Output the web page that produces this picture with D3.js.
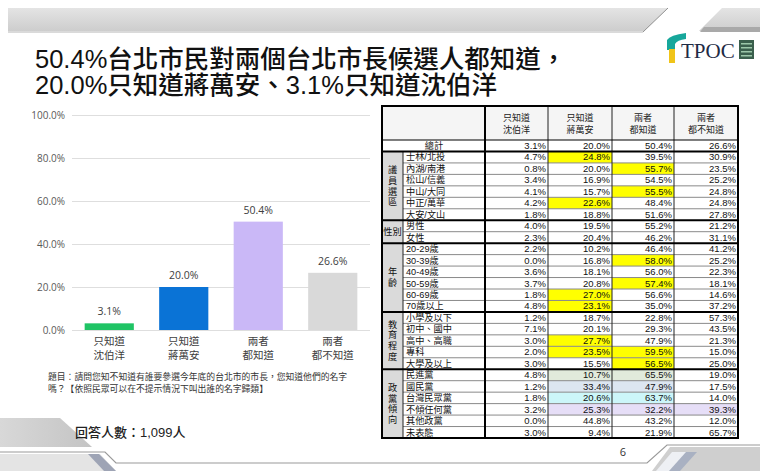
<!DOCTYPE html>
<html><head><meta charset="utf-8">
<script src="https://cdn.jsdelivr.net/npm/d3@7"></script>
<style>body{margin:0;background:#fff}svg{display:block}</style>
</head><body>
<svg id="c" width="760" height="471"></svg>
<script>
// ---------- data ----------
const titleLines = ["50.4%台北市民對兩個台北市長候選人都知道，", "20.0%只知道蔣萬安、3.1%只知道沈伯洋"];
const categories = ["只知道\n沈伯洋", "只知道\n蔣萬安", "兩者\n都知道", "兩者\n都不知道"];
const values = [3.1, 20.0, 50.4, 26.6];
const barColors = ["#1fc465", "#0a73d6", "#cab8f7", "#d9d9d9"];
const yTicks = [0, 20, 40, 60, 80, 100];
const questionLines = ["題目：請問您知不知道有誰要參選今年底的台北市的市長，您知道他們的名字", "嗎？【依照民眾可以在不提示情況下叫出誰的名字歸類】"];
const sampleText = "回答人數：1,099人";

const rowLabels = ["總計", "士林/北投", "內湖/南港", "松山/信義", "中山/大同", "中正/萬華", "大安/文山",
  "男性", "女性", "20-29歲", "30-39歲", "40-49歲", "50-59歲", "60-69歲", "70歲以上",
  "小學及以下", "初中、國中", "高中、高職", "專科", "大學及以上",
  "民進黨", "國民黨", "台灣民眾黨", "不傾任何黨", "其他政黨", "未表態"];
const groupNames = ["議員選區", "性別", "年齡", "教育程度", "政黨傾向"];
const groupSizes = [6, 2, 6, 5, 6];
const colShen    = [3.1, 4.7, 0.8, 3.4, 4.1, 4.2, 1.8, 4.0, 2.3, 2.2, 0.0, 3.6, 3.7, 1.8, 4.8, 1.2, 7.1, 3.0, 2.0, 3.0, 4.8, 1.2, 1.8, 3.2, 0.0, 3.0];
const colChiang  = [20.0, 24.8, 20.0, 16.9, 15.7, 22.6, 18.8, 19.5, 20.4, 10.2, 16.8, 18.1, 20.8, 27.0, 23.1, 18.7, 20.1, 27.7, 23.5, 15.5, 10.7, 33.4, 20.6, 25.3, 44.8, 9.4];
const colBoth    = [50.4, 39.5, 55.7, 54.5, 55.5, 48.4, 51.6, 55.2, 46.2, 46.4, 58.0, 56.0, 57.4, 56.6, 35.0, 22.8, 29.3, 47.9, 59.5, 56.5, 65.5, 47.9, 63.7, 32.2, 43.2, 21.9];
const colNeither = [26.6, 30.9, 23.5, 25.2, 24.8, 24.8, 27.8, 21.2, 31.1, 41.2, 25.2, 22.3, 18.1, 14.6, 37.2, 57.3, 43.5, 21.3, 15.0, 25.0, 19.0, 17.5, 14.0, 39.3, 12.0, 65.7];
// [row, column, colour key]
const highlights = [[1,1,"y"],[2,2,"y"],[4,2,"y"],[5,1,"y"],[10,2,"y"],[12,2,"y"],[13,1,"y"],[14,1,"y"],
  [17,1,"y"],[18,1,"y"],[18,2,"y"],[19,2,"y"],[20,1,"g"],[20,2,"g"],[21,1,"b"],[21,2,"b"],
  [22,1,"c"],[22,2,"c"],[23,1,"p"],[23,2,"p"],[23,3,"p"]];
const hlColors = {y:"#ffff00", g:"#e1eadb", b:"#dce6f1", c:"#ccf6f9", p:"#e6def7"};

// ---------- drawing ----------
const svg = d3.select("#c");
const CJK = "'Liberation Sans','Noto Sans CJK TC','Noto Sans CJK SC',sans-serif";
const defs = svg.append("defs");
const g1 = defs.append("linearGradient").attr("id","band").attr("x1",0).attr("y1",0).attr("x2",0).attr("y2",1);
g1.append("stop").attr("offset","0%").attr("stop-color","#e4e4e4");
g1.append("stop").attr("offset","100%").attr("stop-color","#cdcdcd");

// top decoration
svg.append("path").attr("d","M8,8 L668,8 L644,31 L8,31 Z").attr("fill","url(#band)");
svg.append("path").attr("d","M722,8 L760,8 L760,31 L699,31 Z").attr("fill","url(#band)");
svg.append("path").attr("d","M704,27 L760,27 L760,32 L700,32 Z").attr("fill","#a9a9a9");
svg.append("line").attr("x1",668).attr("y1",8).attr("x2",643).attr("y2",32).attr("stroke","#777").attr("stroke-width",0.8);
svg.append("line").attr("x1",8).attr("y1",32).attr("x2",643).attr("y2",32).attr("stroke","#b5b5b5").attr("stroke-width",1);

// logo
svg.append("path").attr("d","M667,40 Q670,35 686,33 L686,39 Q677,40 675,44 L675,50 L667,50 Z").attr("fill","#17a79b");
svg.append("rect").attr("x",669).attr("y",49).attr("width",6).attr("height",14).attr("fill","#f0c419");
svg.append("text").attr("x",681).attr("y",58).attr("font-family","'Liberation Serif','DejaVu Serif',serif")
  .attr("font-size",21).attr("fill","#1e2a44").text("TPOC");
const ic = svg.append("g");
ic.append("rect").attr("x",739).attr("y",40).attr("width",15).attr("height",19).attr("fill","#3a5f4c");
[43,47,51,55].forEach(yy => ic.append("rect").attr("x",741).attr("y",yy).attr("width",11).attr("height",1.5).attr("fill","#9cc7a9"));

// title
svg.append("g").selectAll("text").data(titleLines).join("text")
  .attr("x",35).attr("y",(d,i)=>68+i*26).attr("font-family",CJK).attr("font-size",25.5)
  .attr("font-weight",500).attr("fill","#111").text(d=>d);

// ---------- bar chart ----------
const x = d3.scaleBand().domain(categories).range([72,370]).paddingInner(0.34).paddingOuter(0.17);
const y = d3.scaleLinear().domain([0,100]).range([330,115]);

const yAxis = svg.append("g").attr("transform","translate(72,0)")
  .call(d3.axisLeft(y).tickValues(yTicks).tickSize(-298).tickFormat(d=>d.toFixed(1)+"%"));
yAxis.select(".domain").remove();
yAxis.selectAll(".tick line").attr("stroke","#dedede");
yAxis.selectAll(".tick text").attr("x",-7).attr("fill","#595959").attr("font-size",10)
  .attr("font-family","'Open Sans','Noto Sans',sans-serif");

svg.append("g").selectAll("rect").data(values).join("rect")
  .attr("x",(d,i)=>x(categories[i])).attr("width",x.bandwidth())
  .attr("y",d=>y(d)).attr("height",d=>y(0)-y(d)).attr("fill",(d,i)=>barColors[i]);

svg.append("g").selectAll("text").data(values).join("text")
  .attr("x",(d,i)=>x(categories[i])+x.bandwidth()/2).attr("y",d=>y(d)-8)
  .attr("text-anchor","middle").attr("font-size",10.5).attr("fill","#404040")
  .attr("font-family","'Open Sans','Noto Sans',sans-serif").text(d=>d.toFixed(1)+"%");

const cl = svg.append("g").selectAll("text").data(categories).join("text")
  .attr("text-anchor","middle").attr("font-family",CJK).attr("font-size",10.5).attr("fill","#404040");
cl.each(function(d){
  const t = d3.select(this), cx = x(d)+x.bandwidth()/2;
  d.split("\n").forEach((s,i)=>t.append("tspan").attr("x",cx).attr("y",345+i*14).text(s));
});

// question text
svg.append("g").selectAll("text").data(questionLines).join("text")
  .attr("x",48).attr("y",(d,i)=>380+i*12).attr("font-family",CJK).attr("font-size",8.8).attr("fill","#333").text(d=>d);

// bottom decorations
const g2 = defs.append("linearGradient").attr("id","bl").attr("x1",0).attr("y1",0).attr("x2",1).attr("y2",0);
g2.append("stop").attr("offset","0%").attr("stop-color","#d8d8d8");
g2.append("stop").attr("offset","100%").attr("stop-color","#c4c4c4");
svg.append("path").attr("d","M0,418 L60,418 L92,447 L0,447 Z").attr("fill","url(#bl)");
svg.append("path").attr("d","M0,454 L100,454 L116,471 L0,471 Z").attr("fill","#e4e4e4");
svg.append("path").attr("d","M88,454 L99,454 L116,471 L104,471 Z").attr("fill","#9ea4b5");
svg.append("path").attr("d","M652,471 L670,447 L760,447 L760,471 Z").attr("fill","#cfcfcf");
svg.append("path").attr("d","M672,452 L690,452 L672,471 L656,471 Z").attr("fill","#eef0f4");
svg.append("path").attr("d","M686,452 L697,452 L680,471 L669,471 Z").attr("fill","#a9b1c2");
svg.append("path").attr("d","M0,452 L105,452 L116,463 L647,463 L667,445 L760,445")
  .attr("fill","none").attr("stroke","#9a9a9a").attr("stroke-width",1.2);
svg.append("text").attr("x",75).attr("y",437).attr("font-family",CJK).attr("font-size",13)
  .attr("font-weight",500).attr("fill","#222").text(sampleText);
svg.append("text").attr("x",623).attr("y",456).attr("text-anchor","middle")
  .attr("font-family","'Open Sans',sans-serif").attr("font-size",11).attr("fill","#333").text("6");

// ---------- table ----------
const colEdges = [382, 403, 485, 548, 612, 674, 738];
const tTop = 106, hBottom = 140;
const rows = d3.scaleBand().domain(d3.range(rowLabels.length)).range([hBottom, 438]);
const rh = rows.bandwidth();
const cols = [colShen, colChiang, colBoth, colNeither];
const T = svg.append("g");

// backgrounds
T.append("rect").attr("x",382).attr("y",tTop).attr("width",356).attr("height",hBottom-tTop).attr("fill","#f5f5f5");
let start = 1;
const groupStarts = groupSizes.map(s => { const st = start; start += s; return st; });
T.selectAll("rect.grp").data(groupNames).join("rect").attr("class","grp")
  .attr("x",382).attr("width",21).attr("y",(d,i)=>rows(groupStarts[i]))
  .attr("height",(d,i)=>groupSizes[i]*rh).attr("fill","#dadada");
T.selectAll("rect.hl").data(highlights).join("rect").attr("class","hl")
  .attr("x",d=>colEdges[d[1]+2]).attr("width",d=>colEdges[d[1]+3]-colEdges[d[1]+2])
  .attr("y",d=>rows(d[0])).attr("height",rh).attr("fill",d=>hlColors[d[2]]);

// thin row lines (within groups)
const thinRows = d3.range(1,rowLabels.length).filter(r => !groupStarts.includes(r) && r!==1);
T.selectAll("line.rl").data(thinRows).join("line").attr("class","rl")
  .attr("x1",403).attr("x2",738).attr("y1",d=>rows(d)).attr("y2",d=>rows(d))
  .attr("stroke","#8a8a8a").attr("stroke-width",1);
// vertical lines
T.selectAll("line.vl").data([403,548,612,674]).join("line").attr("class","vl")
  .attr("x1",d=>d).attr("x2",d=>d).attr("y1",d=>d===403?hBottom+rh:tTop).attr("y2",438)
  .attr("stroke","#222").attr("stroke-width",1);
T.append("line").attr("x1",485).attr("x2",485).attr("y1",tTop).attr("y2",438).attr("stroke","#000").attr("stroke-width",2);
// thick group lines
T.selectAll("line.gl").data([hBottom, rows(1), ...groupStarts.slice(1).map(r=>rows(r))]).join("line").attr("class","gl")
  .attr("x1",382).attr("x2",738).attr("y1",d=>d).attr("y2",d=>d)
  .attr("stroke","#000").attr("stroke-width",(d,i)=>i===0?1.2:2);
T.append("rect").attr("x",382).attr("y",tTop).attr("width",356).attr("height",438-tTop)
  .attr("fill","none").attr("stroke","#000").attr("stroke-width",2);

// header text
const ht = T.selectAll("text.hd").data(categories).join("text").attr("class","hd")
  .attr("text-anchor","middle").attr("font-family",CJK).attr("font-size",9).attr("fill","#222");
ht.each(function(d,i){
  const t = d3.select(this), cx = (colEdges[i+2]+colEdges[i+3])/2;
  d.split("\n").forEach((s,k)=>t.append("tspan").attr("x",cx).attr("y",121+k*12).text(s));
});

// row labels
T.selectAll("text.rlab").data(rowLabels).join("text").attr("class","rlab")
  .attr("x",(d,i)=>i===0?434:406).attr("text-anchor",(d,i)=>i===0?"middle":"start")
  .attr("y",(d,i)=>rows(i)+rh/2+3.3).attr("font-family",CJK).attr("font-size",9.2).attr("fill","#111").text(d=>d);

// group labels
groupNames.forEach((name,i)=>{
  const cy = rows(groupStarts[i]) + groupSizes[i]*rh/2;
  if (name === "性別") {
    T.append("text").attr("x",392.5).attr("y",cy+3.3).attr("text-anchor","middle")
      .attr("font-family",CJK).attr("font-size",9.2).attr("fill","#111").text(name);
  } else {
    const ch = name.split(""), sp = 10.8;
    ch.forEach((c,k)=>T.append("text").attr("x",392.5).attr("y",cy+(k-(ch.length-1)/2)*sp+3.3)
      .attr("text-anchor","middle").attr("font-family",CJK).attr("font-size",9.2).attr("fill","#111").text(c));
  }
});

// values
cols.forEach((arr,ci)=>{
  T.selectAll("text.v"+ci).data(arr).join("text").attr("class","v"+ci)
    .attr("x",colEdges[ci+3]-2).attr("y",(d,i)=>rows(i)+rh/2+3.3).attr("text-anchor","end")
    .attr("font-family","'Liberation Sans','Noto Sans',sans-serif").attr("font-size",9.5).attr("fill","#111")
    .text(d=>d.toFixed(1)+"%");
});
</script>
</body></html>
